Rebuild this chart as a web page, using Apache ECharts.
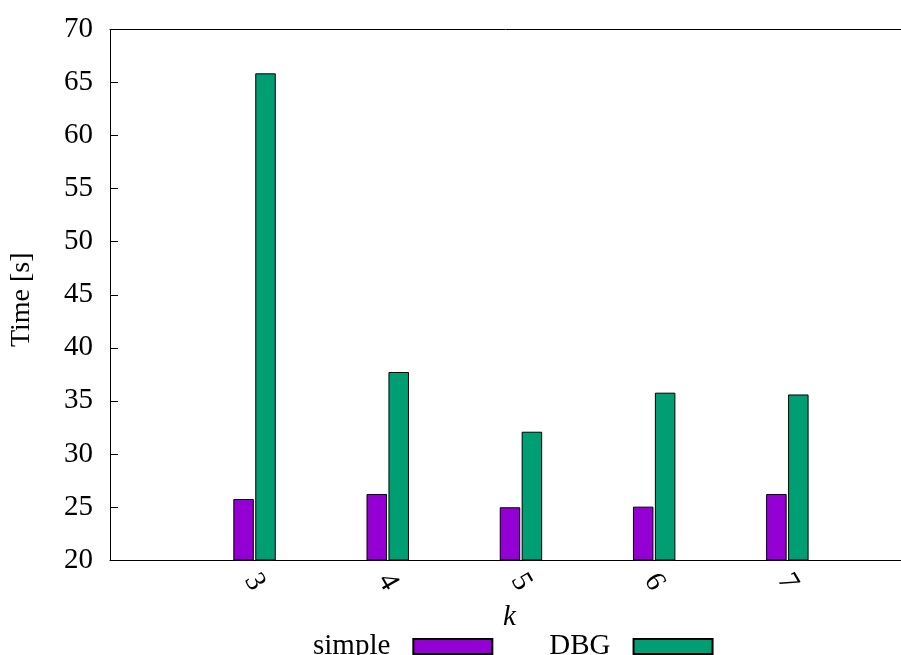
<!DOCTYPE html>
<html>
<head>
<meta charset="utf-8">
<script src="https://cdn.jsdelivr.net/npm/echarts@6/dist/echarts.min.js"></script>
<style>
  html, body { margin: 0; padding: 0; background: #fff; }
  #chart { width: 901px; height: 655px; }
</style>
</head>
<body>
<div id="chart"></div>
<script>
// Run times per k for the two graph builders
const kValues = [3, 4, 5, 6, 7];
const simpleTimes = [25.75, 26.22, 24.97, 25.03, 26.22];
const dbgTimes = [65.87, 37.72, 32.09, 35.77, 35.6];
const yTickValues = [20, 25, 30, 35, 40, 45, 50, 55, 60, 65, 70];

const FONT = 'Liberation Serif';
const FONT_SIZE = 29;
const X_MIN = 1.915, X_MAX = 7.853;

const chart = echarts.init(document.getElementById('chart'));
chart.setOption({
  animation: false,
  backgroundColor: '#fff',
  grid: { left: 110, right: 0, top: 29.5, bottom: 95, containLabel: false, outerBoundsMode: 'none' },
  legend: {
    left: 313,
    top: 632,
    align: 'right',
    icon: 'rect',
    itemWidth: 79,
    itemHeight: 15,
    itemGap: 56,
    padding: 0,
    textStyle: { fontFamily: FONT, fontSize: FONT_SIZE, color: '#000', padding: [0, 18, 0, 0] },
    data: ['simple', 'DBG']
  },
  xAxis: [
    {
      type: 'value',
      min: X_MIN,
      max: X_MAX,
      position: 'bottom',
      name: 'k',
      nameLocation: 'middle',
      nameGap: 40,
      nameTextStyle: { fontFamily: FONT, fontSize: FONT_SIZE, fontStyle: 'italic', color: '#000', padding: [0, 0, 0, 8] },
      axisLine: { show: true, lineStyle: { color: '#000', width: 1 } },
      axisTick: { show: false },
      splitLine: { show: false },
      axisLabel: {
        customValues: kValues,
        rotate: -60,
        align: 'center',
        verticalAlign: 'middle',
        margin: 22,
        fontFamily: FONT,
        fontSize: FONT_SIZE,
        color: '#000'
      }
    },
    {
      type: 'value',
      min: X_MIN,
      max: X_MAX,
      position: 'top',
      axisLine: { show: true, lineStyle: { color: '#000', width: 1 } },
      axisTick: { show: false },
      axisLabel: { show: false },
      splitLine: { show: false }
    }
  ],
  yAxis: {
    type: 'value',
    min: 20,
    max: 70,
    interval: 5,
    name: 'Time [s]',
    nameLocation: 'middle',
    nameGap: 74,
    nameRotate: 90,
    nameTextStyle: { fontFamily: FONT, fontSize: 28, color: '#000', padding: [0, 10, 0, 0] },
    axisLine: { show: true, lineStyle: { color: '#000', width: 1 } },
    axisTick: { show: true, inside: true, length: 8, lineStyle: { color: '#000' }, customValues: yTickValues },
    splitLine: { show: false },
    axisLabel: { margin: 17, fontFamily: FONT, fontSize: FONT_SIZE, color: '#000', customValues: yTickValues }
  },
  series: [
    {
      name: 'simple',
      type: 'bar',
      xAxisIndex: 0,
      barWidth: 20.5,
      barGap: '7%',
      itemStyle: { color: '#9400d3', borderColor: '#000', borderWidth: 1 },
      data: kValues.map((k, i) => [k, simpleTimes[i]])
    },
    {
      name: 'DBG',
      type: 'bar',
      xAxisIndex: 0,
      barWidth: 20.5,
      barGap: '7%',
      itemStyle: { color: '#009e73', borderColor: '#000', borderWidth: 1 },
      data: kValues.map((k, i) => [k, dbgTimes[i]])
    }
  ]
});
</script>
</body>
</html>
